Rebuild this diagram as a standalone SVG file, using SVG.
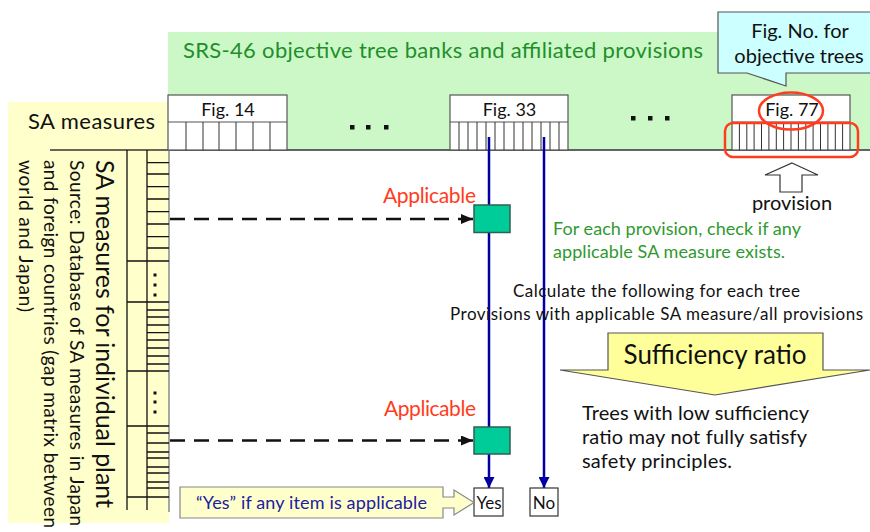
<svg xmlns="http://www.w3.org/2000/svg" width="870" height="532" viewBox="0 0 870 532">
<defs>
<style>
text{font-family:Lato,"Liberation Sans",sans-serif;}
.cell{fill:#fff;stroke:#555;stroke-width:1.2;}
.thin{stroke:#333;stroke-width:1;fill:none;}
.blk{stroke:#111;stroke-width:1.3;fill:none;}
.dash{stroke:#111;stroke-width:2.5;stroke-dasharray:15 9;fill:none;}
.blue{stroke:#0000a0;stroke-width:2.5;fill:none;}
.sq{fill:#00cc99;stroke:#2e6050;stroke-width:1.5;}
.red{fill:#ff3c1e;font-size:21px;}
.dot{fill:#111;}
</style>
<marker id="ab" viewBox="0 0 12 10" refX="12" refY="5" markerWidth="12" markerHeight="10" markerUnits="userSpaceOnUse" orient="auto"><path d="M0,0 L12,5 L0,10 Z" fill="#111"/></marker>
<marker id="ablue" viewBox="0 0 12 11" refX="11" refY="5.5" markerWidth="12" markerHeight="11" markerUnits="userSpaceOnUse" orient="auto"><path d="M0,0 L11,5.5 L0,11 Z" fill="#0000a0"/></marker>
</defs>

<g id="bank">
<rect x="168" y="32" width="702" height="118" fill="#ccf8c8"/>
<text x="183" y="58" font-size="22" fill="#1f8f2a" textLength="520">SRS-46 objective tree banks and affiliated provisions</text>
</g>

<g id="sa-panel">
<rect x="8" y="102" width="161" height="421" fill="#ffffcc"/>
<text x="28" y="129" font-size="22" fill="#111" textLength="127">SA measures</text>
<line x1="50" y1="150" x2="870" y2="150" stroke="#333" stroke-width="1.5"/>
<line x1="169" y1="95" x2="169" y2="512" stroke="#888" stroke-width="1.5"/>
<path class="blk" d="M127,150V510M147,150V510"/>
<path class="blk" d="M127,261H169M127,302H169M127,371H169M127,426H169M127,497H169"/>
<path class="blk" d="M147,162.7H169M147,174H169M147,186.7H169M147,199H169M147,211.7H169M147,224H169M147,236.7H169M147,248H169M147,310H169M147,317H169M147,325H169M147,332.7H169M147,340H169M147,348H169M147,356H169M147,364H169M147,433H169M147,443H169M147,452H169M147,458H169M147,467H169M147,473H169M147,482H169M147,488H169"/>
<rect class="dot" x="153.5" y="273.5" width="3" height="3"/>
<rect class="dot" x="153.5" y="283.5" width="3" height="3"/>
<rect class="dot" x="153.5" y="293.5" width="3" height="3"/>
<rect class="dot" x="153.5" y="391.5" width="3" height="3"/>
<rect class="dot" x="153.5" y="400.5" width="3" height="3"/>
<rect class="dot" x="153.5" y="410.5" width="3" height="3"/>
<text transform="translate(96,160) rotate(90)" font-size="25" fill="#111" textLength="348">SA measures for individual plant</text>
<text transform="translate(70,160) rotate(90)" font-size="19" fill="#111" textLength="366">Source: Database of SA measures in Japan</text>
<text transform="translate(44,160) rotate(90)" font-size="19" fill="#111" textLength="368">and foreign countries (gap matrix between</text>
<text transform="translate(19,160) rotate(90)" font-size="19" fill="#111" textLength="152">world and Japan)</text>
</g>

<g id="fig14">
<rect class="cell" x="168" y="95" width="119" height="55"/>
<line x1="168" y1="122" x2="287" y2="122" stroke="#555" stroke-width="1.2"/>
<path class="thin" d="M186,122V150M203,122V150M219,122V150M236,122V150M253,122V150M270,122V150"/>
<text x="228" y="115.5" font-size="18" text-anchor="middle" fill="#111">Fig. 14</text>
</g>

<g id="dots1">
<rect class="dot" x="350" y="125" width="4.5" height="4.5"/>
<rect class="dot" x="366" y="125" width="4.5" height="4.5"/>
<rect class="dot" x="384" y="125" width="4.5" height="4.5"/>
</g>

<g id="fig33">
<rect class="cell" x="450" y="95" width="118" height="55"/>
<line x1="450" y1="122" x2="568" y2="122" stroke="#555" stroke-width="1.2"/>
<path class="thin" d="M459,122V150M468,122V150M477,122V150M486,122V150M495,122V150M504,122V150M514,122V150M523,122V150M532,122V150M541,122V150M550,122V150M559,122V150"/>
<text x="509.5" y="115.5" font-size="18" text-anchor="middle" fill="#111">Fig. 33</text>
</g>

<g id="dots2">
<rect class="dot" x="631" y="116" width="4.5" height="4.5"/>
<rect class="dot" x="648" y="116" width="4.5" height="4.5"/>
<rect class="dot" x="665" y="116" width="4.5" height="4.5"/>
</g>

<g id="fig77">
<rect class="cell" x="732" y="95" width="118" height="55"/>
<line x1="732" y1="122" x2="850" y2="122" stroke="#555" stroke-width="1.2"/>
<path class="thin" d="M739.4,122V150M746.8,122V150M754.1,122V150M761.5,122V150M768.9,122V150M776.3,122V150M783.6,122V150M791,122V150M798.4,122V150M805.8,122V150M813.1,122V150M820.5,122V150M827.9,122V150M835.3,122V150M842.6,122V150"/>
<text x="792" y="115.5" font-size="18" text-anchor="middle" fill="#111">Fig. 77</text>
<ellipse cx="791" cy="111" rx="32" ry="18.5" fill="none" stroke="#ff3c1e" stroke-width="2.5"/>
<rect x="725" y="123" width="133" height="34" rx="8" fill="none" stroke="#ff3c1e" stroke-width="2.5"/>
</g>

<g id="callout-fig">
<path d="M718,12H872V73H786V86L747,73H718Z" fill="#ccffff" stroke="#555" stroke-width="1.2"/>
<text x="800" y="38" font-size="20" text-anchor="middle" fill="#111">Fig. No. for</text>
<text x="799" y="63" font-size="20" text-anchor="middle" fill="#111">objective trees</text>
</g>

<g id="provision">
<path d="M792,163L818,175H802V192H780V175H765Z" fill="#fff" stroke="#333" stroke-width="1.2"/>
<text x="792" y="210" font-size="20" text-anchor="middle" fill="#111">provision</text>
</g>

<g id="connectors">
<line class="blue" x1="489" y1="137" x2="489" y2="488" marker-end="url(#ablue)"/>
<line class="blue" x1="544" y1="137" x2="544" y2="488" marker-end="url(#ablue)"/>
<line class="dash" x1="170" y1="219" x2="473" y2="219" marker-end="url(#ab)"/>
<line class="dash" x1="170" y1="440.5" x2="473" y2="440.5" marker-end="url(#ab)"/>
</g>

<g id="check1">
<rect class="sq" x="474" y="205" width="36" height="27.5"/>
<text class="red" x="383" y="203" textLength="93">Applicable</text>
</g>

<g id="check2">
<rect class="sq" x="474" y="427" width="36" height="27"/>
<text class="red" x="384" y="416" textLength="92">Applicable</text>
</g>

<g id="yes">
<rect x="474" y="488" width="29" height="28" fill="#fff" stroke="#333" stroke-width="1.2"/>
<text x="489" y="508.5" font-size="17" text-anchor="middle" fill="#111">Yes</text>
</g>

<g id="no">
<rect x="530" y="488" width="28" height="28" fill="#fff" stroke="#333" stroke-width="1.2"/>
<text x="544" y="508.5" font-size="17" text-anchor="middle" fill="#111">No</text>
</g>

<g id="yes-note">
<path d="M180,487H443V497H454V490L474,502.5L454,515V508H443V518H180Z" fill="#ffffcc" stroke="#888" stroke-width="1.2"/>
<text x="311.5" y="508.5" font-size="18" text-anchor="middle" fill="#2020a0" textLength="231">“Yes” if any item is applicable</text>
</g>

<g id="check-note">
<text x="553" y="235" font-size="18" fill="#2e9a2e" textLength="248">For each provision, check if any</text>
<text x="553" y="258" font-size="18" fill="#2e9a2e" textLength="232">applicable SA measure exists.</text>
</g>

<g id="calc-note">
<text x="656.5" y="297" font-size="17" text-anchor="middle" fill="#111" textLength="287">Calculate the following for each tree</text>
<text x="656.5" y="320" font-size="17" text-anchor="middle" fill="#111" textLength="413">Provisions with applicable SA measure/all provisions</text>
</g>

<g id="sufficiency">
<path d="M608,333H823V370H870L715,395L560,370H608Z" fill="#ffff99" stroke="#555" stroke-width="1.2"/>
<text x="715" y="364" font-size="26" text-anchor="middle" fill="#111">Sufficiency ratio</text>
</g>

<g id="result-note">
<text x="582" y="420" font-size="20" fill="#111" textLength="227">Trees with low sufficiency</text>
<text x="582" y="444" font-size="20" fill="#111" textLength="225">ratio may not fully satisfy</text>
<text x="582" y="468" font-size="20" fill="#111" textLength="150">safety principles.</text>
</g>
</svg>
